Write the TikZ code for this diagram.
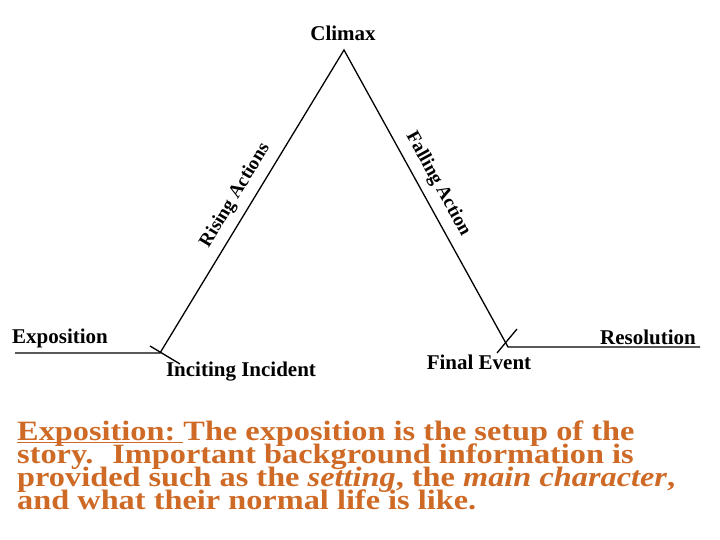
\documentclass[tikz,border=0pt]{standalone}
\usepackage{fontspec}
\setmainfont{Liberation Serif}
\newfontfamily\notefont[FakeStretch=1.155]{Liberation Serif}
\newcommand\notestyle{\notefont\bfseries\fontsize{28}{23}\selectfont\lineskiplimit=-30pt\relax}
\definecolor{expotext}{RGB}{206,106,38}
\begin{document}
\begin{tikzpicture}[x=1pt,y=1pt,
    plotline/.style={line width=1.3pt},
    stage/.style={font=\bfseries\fontsize{21}{21}\selectfont, inner sep=0pt},
    slope label/.style={font=\bfseries\fontsize{19}{19}\selectfont, inner sep=0pt, sloped, above=8pt}]
  \useasboundingbox (0,0) rectangle (720,540);
  % the plot line
  \coordinate (start) at (15,187);
  \coordinate (incite) at (160,187);
  \coordinate (climax) at (344,490);
  \coordinate (final) at (508,193);
  \coordinate (finish) at (700,193);
  \draw[plotline] (start) -- (incite)
    -- node[slope label, pos=0.49] (rising) {Rising Actions} (climax)
    -- node[slope label, pos=0.48] (falling) {Falling Action} (final)
    -- (finish);
  \draw[plotline] (incite) ++(-10,7) -- ++(30,-18);
  \draw[plotline] (final) ++(-11,-6) -- ++(20,24);
  \node[stage] (climaxlabel) at (343,507) {Climax};
  \node[stage, anchor=west] (expolabel) at (12,202) {Exposition};
  \node[stage] (incitelabel) at (241,168) {Inciting Incident};
  \node[stage] (finallabel) at (479,178) {Final Event};
  \node[stage] (resolabel) at (648,203) {Resolution};
  % the note below (base = last line)
  \node[anchor=base west, inner sep=0pt, align=left, text=expotext,
        font=\notestyle] (note) at (17,30)
    {\underline{\smash{Exposition:}\ }The exposition is the setup of the\\
     story.~ Important background information is\\
     provided such as the \textit{setting}, the \textit{main character},\\
     and what their normal life is like.};
\end{tikzpicture}
\end{document}
